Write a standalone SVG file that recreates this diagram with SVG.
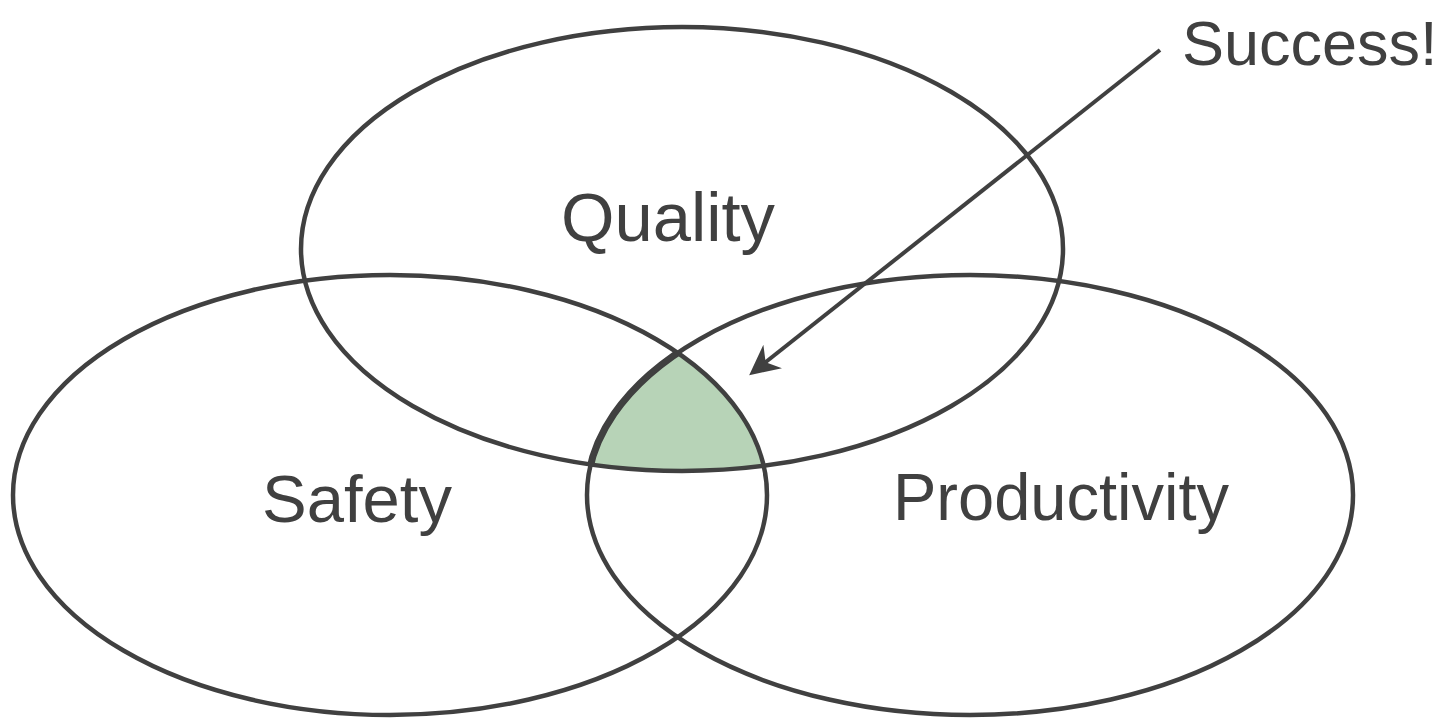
<svg xmlns="http://www.w3.org/2000/svg" width="1446" height="719" viewBox="0 0 1446 719">
<style>
.ring{fill:none;stroke:#404040;stroke-width:4.5}
.lbl{font-family:"Liberation Sans",Arial,sans-serif;fill:#404040}
.conn{stroke:#404040;stroke-width:4;fill:none}
</style>
<defs>
<clipPath id="cQ"><ellipse cx="682" cy="249" rx="381" ry="222"/></clipPath>
<clipPath id="cS"><ellipse cx="390" cy="495" rx="377" ry="220"/></clipPath>
<marker id="ah" viewBox="-32 -17 34 34" markerWidth="34" markerHeight="34" refX="-10" refY="0" orient="auto" markerUnits="userSpaceOnUse">
<path d="M0,0 L-30,-15 L-21,0 L-30,15 Z" fill="#404040"/>
</marker>
</defs>
<rect width="1446" height="719" fill="#ffffff"/>
<g id="success-region" clip-path="url(#cQ)">
<g clip-path="url(#cS)">
<ellipse cx="970" cy="495" rx="383" ry="220" fill="#b7d3b7" stroke="#404040" stroke-width="7"/>
</g>
</g>
<g id="quality">
<ellipse class="ring" cx="682" cy="249" rx="381" ry="222"/>
<text class="lbl" x="668" y="241" font-size="68" text-anchor="middle" textLength="214" lengthAdjust="spacingAndGlyphs">Quality</text>
</g>
<g id="safety">
<ellipse class="ring" cx="390" cy="495" rx="377" ry="220"/>
<text class="lbl" x="357" y="522" font-size="66" text-anchor="middle" textLength="190" lengthAdjust="spacingAndGlyphs">Safety</text>
</g>
<g id="productivity">
<ellipse class="ring" cx="970" cy="495" rx="383" ry="220"/>
<text class="lbl" x="1061" y="520" font-size="66" text-anchor="middle" textLength="336" lengthAdjust="spacingAndGlyphs">Productivity</text>
</g>
<g id="success">
<text class="lbl" x="1182" y="65" font-size="63">Success!</text>
</g>
<g id="connectors">
<line class="conn" x1="1160" y1="50" x2="757" y2="369" marker-end="url(#ah)"/>
</g>
</svg>
